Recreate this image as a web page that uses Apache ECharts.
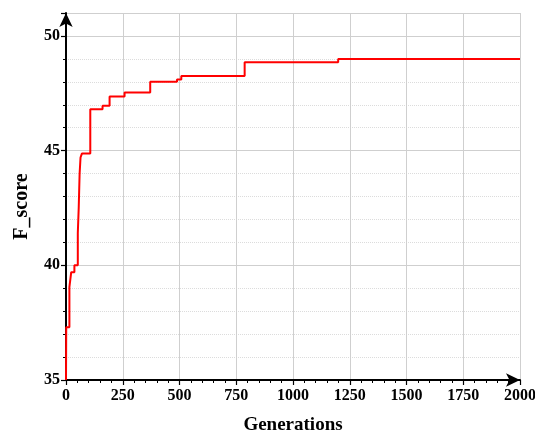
<!DOCTYPE html>
<html>
<head>
    <meta charset="UTF-8">
    <title></title>
    <style>
        html, body { margin: 0; padding: 0; background: #fff; }
        #chart { width: 535px; height: 430px; }
    </style>
</head>
<body>
    <div id="chart"></div>
    <script src="https://cdn.jsdelivr.net/npm/echarts@6/dist/echarts.min.js"></script>
    <script type="text/javascript">
        // step points: from each generation on, the best F_score holds this value
        var generations = [0, 1, 15, 23, 37, 52, 56, 60, 64, 70, 107, 161, 192, 258, 371, 489, 508, 787, 1199, 2000];
        var fScores = [35, 37.3, 39.05, 39.7, 40.0, 41.4, 42.5, 44.0, 44.7, 44.87, 46.8, 46.96, 47.36, 47.53, 48.0, 48.1, 48.25, 48.85, 49.0, 49.0];
        var xTicks = [0, 250, 500, 750, 1000, 1250, 1500, 1750, 2000];
        var yTicks = [35, 40, 45, 50];

        var chart = echarts.init(document.getElementById('chart'));
        var font = 'Liberation Serif';

        var points = [];
        for (var i = 0; i < generations.length; i++) {
            points.push([generations[i], fScores[i]]);
        }

        var option = {
            animation: false,
            grid: {
                left: 66,
                right: 15,
                top: 13,
                bottom: 50,
                containLabel: false,
                outerBoundsMode: 'none'
            },
            xAxis: {
                type: 'value',
                min: xTicks[0],
                max: xTicks[xTicks.length - 1],
                interval: 250,
                name: 'Generations',
                nameLocation: 'middle',
                nameGap: 36,
                nameTextStyle: { fontFamily: font, fontWeight: 'bold', fontSize: 19, color: '#000' },
                axisLine: {
                    lineStyle: { color: '#000', width: 2 },
                    symbol: ['none', 'arrow'],
                    symbolSize: [10, 14],
                    symbolOffset: [0, 0]
                },
                axisTick: { show: true, length: 5, lineStyle: { color: '#000', width: 1.2 } },
                minorTick: { show: true, splitNumber: 5, length: 3, lineStyle: { color: '#000' } },
                axisLabel: {
                    fontFamily: font, fontWeight: 'bold', fontSize: 16, color: '#000', margin: 8,
                    formatter: function (v) { return String(v); }
                },
                splitLine: { show: true, lineStyle: { color: '#cfcfcf', width: 1 } },
                minorSplitLine: { show: false }
            },
            yAxis: {
                type: 'value',
                min: 35,
                max: 51,
                interval: 5,
                name: 'F_score',
                nameLocation: 'middle',
                nameGap: 34,
                nameTextStyle: { fontFamily: font, fontWeight: 'bold', fontSize: 20, color: '#000', padding: [0, 20, 0, 0] },
                axisLine: {
                    show: true,
                    lineStyle: { color: '#000', width: 2 },
                    symbol: ['none', 'arrow'],
                    symbolSize: [10, 14],
                    symbolOffset: [0, 0]
                },
                axisTick: { show: true, length: 5, lineStyle: { color: '#000', width: 1.2 } },
                minorTick: { show: true, splitNumber: 5, length: 3, lineStyle: { color: '#000' } },
                axisLabel: {
                    fontFamily: font, fontWeight: 'bold', fontSize: 16, color: '#000', margin: 6,
                    formatter: function (v) { return yTicks.indexOf(v) >= 0 ? String(v) : ''; }
                },
                splitLine: { show: true, lineStyle: { color: '#cfcfcf', width: 1 } },
                minorSplitLine: { show: true, lineStyle: { color: '#dcdcdc', type: 'dotted', width: 1 } }
            },
            series: [{
                type: 'line',
                step: 'end',
                data: points,
                showSymbol: false,
                lineStyle: { color: '#ff0000', width: 2 },
                itemStyle: { color: '#ff0000' }
            }]
        };
        chart.setOption(option);
    </script>
</body>
</html>
